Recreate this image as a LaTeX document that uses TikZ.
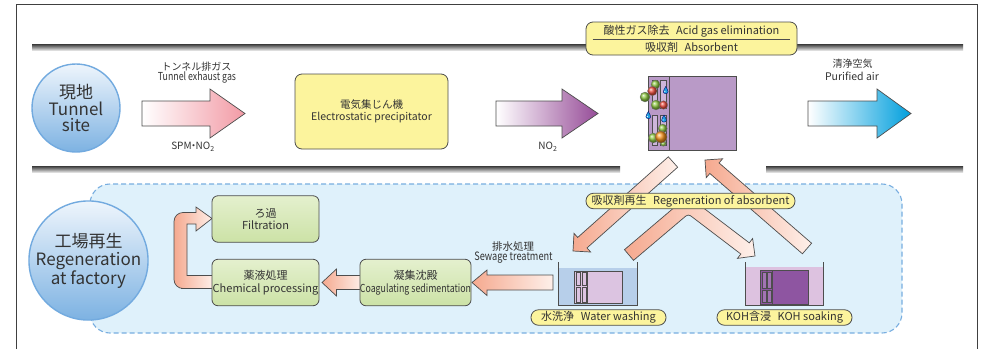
\documentclass[tikz,border=0pt]{standalone}
\usepackage{fontspec}
\usepackage{graphicx}
\setmainfont{Noto Sans CJK JP}
\newfontfamily\narrowfont[FakeStretch=0.8]{Noto Sans CJK JP}
\usetikzlibrary{calc}

\definecolor{ink}{HTML}{333333}
\definecolor{edge}{HTML}{4D4D4D}
\definecolor{yel}{HTML}{FCF49D}
\definecolor{grnT}{HTML}{E4F0CE}
\definecolor{grnB}{HTML}{CCE2A6}
\definecolor{hubT}{HTML}{EEF5FC}
\definecolor{hubB}{HTML}{7DB2E2}
\definecolor{hubline}{HTML}{72AADF}
\definecolor{zone}{HTML}{DFF1FB}
\definecolor{zoneline}{HTML}{78AEE0}
\definecolor{pinkA}{HTML}{F29AA5}
\definecolor{violetA}{HTML}{964C98}
\definecolor{cyanA}{HTML}{009FDD}
\definecolor{salm}{HTML}{F5A98F}
\definecolor{salmL}{HTML}{FEF0EA}
\definecolor{absorb}{HTML}{B99AC7}
\definecolor{slot}{HTML}{CDB6DA}
\definecolor{wash}{HTML}{B7CFEA}
\definecolor{washmod}{HTML}{DCC4E1}
\definecolor{kohliq}{HTML}{DDC2E0}
\definecolor{kohmod}{HTML}{8E55A1}
\definecolor{kohslot}{HTML}{A274B3}
\definecolor{dewc}{HTML}{1E9FE0}
\definecolor{ballG}{HTML}{8CC640}
\definecolor{ballR}{HTML}{E84A3C}
\definecolor{ballO}{HTML}{F7941D}

\tikzset{
  lbl/.style={text=ink, inner sep=0pt, font=\fontsize{10}{12}\selectfont},
  hub/.style={circle, draw=hubline, line width=1.4pt, top color=hubT, bottom color=hubB,
    inner sep=0pt, align=center, text=ink},
  ybox/.style={draw=edge, line width=0.8pt, fill=yel, rounded corners=7pt, align=center,
    text=ink, inner sep=0pt},
  gbox/.style={draw=edge, line width=0.8pt, top color=grnT, bottom color=grnB, rounded corners=6pt,
    minimum width=107pt, minimum height=46.5pt, align=center, text=ink, inner sep=0pt,
    font=\fontsize{11}{12.5}\selectfont},
  tag/.style={ybox, rounded corners=7.5pt, minimum height=15.5pt, font=\fontsize{11}{12}\selectfont},
  blk/.style={draw=edge, line width=0.7pt, line join=miter},
  pipe/.style={top color=black!72, bottom color=black!8},
  ballline/.style={draw=black!50, line width=0.3pt},
  dew/.pic={
    \draw[fill=dewc, draw=blue!40!black, line width=0.35pt]
      (0,-4.5) .. controls (1,-2.2) and (2.4,-1) .. (2.4,0.8)
      .. controls (2.4,3.2) and (-2.4,3.2) .. (-2.4,0.8)
      .. controls (-2.4,-1) and (-1,-2.2) .. cycle;
    \fill[white] (-0.9,0.4) circle (0.6);
  }
}

% slanted block arrow from a tail coordinate to a tip coordinate
\newcommand\slantarrow[3]{%
  \coordinate (#2-b) at ($(#2)!12.5pt!(#1)$);
  \path[#3] ($(#1)!7pt!90:(#2)$) -- ($(#2-b)!7pt!90:(#2)$) -- ($(#2-b)!12.5pt!90:(#2)$)
    -- (#2) -- ($(#2-b)!12.5pt!-90:(#2)$) -- ($(#2-b)!7pt!-90:(#2)$)
    -- ($(#1)!7pt!-90:(#2)$) -- cycle;}

\begin{document}
\begin{tikzpicture}[x=1pt,y=-1pt]
\useasboundingbox (0,0) rectangle (989,349);
\fill[white] (0,0) rectangle (989,349);

% outer frame
\draw[black!75, line width=1pt] (16,349) -- (16,4.5) -- (977,4.5) -- (977,349);

% factory zone
\draw[zoneline, line width=1.1pt, dash pattern=on 5pt off 3pt, fill=zone, rounded corners=20pt]
  (90,184) rectangle (902,333);

% duct walls of the tunnel line
\shade[pipe] (32,44.5) rectangle (963,50.5);
\shade[pipe] (32,166.5) rectangle (620,172.5);
\shade[pipe] (766,166.5) rectangle (963,172.5);

% site hubs
\node[hub, minimum size=88pt, font=\fontsize{17}{16.5}\selectfont] (site) at (76,108)
  {現地\\Tunnel\\site};
\node[hub, minimum size=110pt, font=\fontsize{17}{18}\selectfont] (plant) at (88.5,260.5)
  {工場再生\\Regeneration\\at factory};

% gas flow arrows
\path[blk, left color=white, right color=pinkA]
  (142,101) -- (210,101) -- (210,89) -- (245,113.5) -- (210,138) -- (210,126) -- (142,126) -- cycle;
\path[blk, left color=white, right color=violetA]
  (496,101) -- (562,101) -- (562,89) -- (598,113.5) -- (562,138) -- (562,126) -- (496,126) -- cycle;
\path[blk, left color=white, right color=cyanA]
  (808,101) -- (877,101) -- (877,89) -- (911,113.5) -- (877,138) -- (877,126) -- (808,126) -- cycle;

\node[lbl, anchor=base] (gasjp) at (196.5,70) {トンネル排ガス};
\node[lbl, anchor=base, font=\narrowfont\fontsize{11}{12}\selectfont] (gasen) at (197,80.5) {Tunnel exhaust gas};
\node[lbl, anchor=base] (dust) at (193,149.5) {SPM\kern-0.3em・\kern-0.3em NO\textsubscript{2}};
\node[lbl, anchor=base] (no2) at (548,149.5) {NO\textsubscript{2}};
\node[lbl, anchor=base] (airjp) at (852.5,67.5) {清浄空気};
\node[lbl, anchor=base, font=\fontsize{10.5}{12}\selectfont] (airen) at (852,80.5) {Purified air};

% electrostatic precipitator
\node[ybox, minimum width=153pt, minimum height=75pt, font=\fontsize{10.5}{12}\selectfont] (esp)
  at (371.5,111.5) {電気集じん機\\Electrostatic precipitator};

% acid gas elimination caption
\node[ybox, minimum width=211pt, minimum height=33pt] (acid) at (691.5,38.5) {};
\node[lbl, font=\fontsize{11}{12}\selectfont] (acidjp) at (691.5,31) {酸性ガス除去\hspace{0.6em}Acid gas elimination};
\draw[edge, line width=0.8pt] ($(acid.west)+(7,0.5)$) -- ($(acid.east)+(-7,0.5)$);
\node[lbl, font=\fontsize{11}{12}\selectfont] (sorb) at (691.5,47) {吸収剤\hspace{0.6em}Absorbent};

% absorbent module with captured particles
\draw[edge, line width=0.7pt, fill=absorb] (648,76) rectangle (736,150);
\draw[edge, line width=0.7pt] (669,76) -- (669,150);
\foreach \xa/\xb in {652/657,660/666} {
  \draw[edge, line width=0.5pt, fill=slot] (\xa,80) rectangle (\xb,108);
  \draw[edge, line width=0.5pt, fill=slot] (\xa,115) rectangle (\xb,145.5);
}
\shadedraw[ball color=ballG, ballline] (655.5,84.5) circle (4.5);
\shadedraw[ball color=ballG, ballline] (645,97) circle (5);
\shadedraw[ball color=ballR, ballline] (652.3,91) circle (4.8);
\shadedraw[ball color=ballG, ballline] (656,105) circle (5);
\shadedraw[ball color=ballR, ballline] (663.5,105) circle (4.3);
\shadedraw[ball color=ballG, ballline] (662.7,128.5) circle (4.5);
\shadedraw[ball color=ballG, ballline] (663.3,143.5) circle (2.8);
\shadedraw[ball color=ballG, ballline] (653.3,138) circle (5);
\shadedraw[ball color=ballO, ballline] (661,137) circle (6);
\pic at (665.7,91) {dew};
\pic at (648.3,116) {dew};
\pic at (664,119.5) {dew};

% regeneration loop arrows
\coordinate (aT) at (673,162);
\coordinate (aP) at (573,251);
\coordinate (bT) at (807,248.5);
\coordinate (bP) at (705,160);
\slantarrow{aT}{aP}{blk, left color=salm, right color=salmL}
\slantarrow{bT}{bP}{blk, left color=salm, right color=salmL}

\coordinate (cT) at (629,255);
\coordinate (cA) at (688,205);
\coordinate (cP) at (755,256);
\coordinate (cB) at ($(cP)!12.5pt!(cA)$);
\coordinate (cL1) at ($(cT)!7pt!90:(cA)$);
\coordinate (cL2) at ($(cA)!7pt!-90:(cT)$);
\coordinate (cR1) at ($(cA)!7pt!90:(cP)$);
\coordinate (cR2) at ($(cB)!7pt!90:(cP)$);
\coordinate (cO) at (intersection of cL1--cL2 and cR1--cR2);
\coordinate (cl1) at ($(cT)!7pt!-90:(cA)$);
\coordinate (cl2) at ($(cA)!7pt!90:(cT)$);
\coordinate (cr1) at ($(cA)!7pt!-90:(cP)$);
\coordinate (cr2) at ($(cB)!7pt!-90:(cP)$);
\coordinate (cI) at (intersection of cl1--cl2 and cr1--cr2);
\path[blk, left color=salm, right color=salmL]
  (cL1) [rounded corners=8pt] -- (cO) -- ($(cO)!0.5!(cR2)$) [sharp corners] -- (cR2)
  -- ($(cB)!12.5pt!90:(cP)$) -- (cP) -- ($(cB)!12.5pt!-90:(cP)$) -- (cr2)
  -- ($(cI)!0.5!(cr2)$) [rounded corners=3pt] -- (cI) -- ($(cI)!0.5!(cl1)$) [sharp corners]
  -- (cl1) -- cycle;

\node[tag, minimum width=209pt] (regen) at (690.5,201) {吸収剤再生\hspace{0.6em}Regeneration of absorbent};

% water washing tank
\fill[wash] (558,268) rectangle (637,305);
\draw[edge, line width=0.8pt] (558,262) -- (558,305) -- (637,305) -- (637,262);
\draw[edge, line width=0.7pt, fill=washmod] (574,271) rectangle (622,303);
\draw[edge, line width=0.7pt] (587,271) -- (587,303);
\foreach \xa/\xb in {576/580.5,581.8/585.8} {
  \draw[edge, line width=0.5pt, fill=washmod] (\xa,272.7) rectangle (\xb,285.5);
  \draw[edge, line width=0.5pt, fill=washmod] (\xa,287.7) rectangle (\xb,302);
}
\node[tag, minimum width=135pt] (wlab) at (598.5,317.5) {水洗浄\hspace{0.6em}Water washing};

% KOH soaking tank
\fill[kohliq] (745,267) rectangle (823,305);
\draw[edge, line width=0.8pt] (745,262) -- (745,305) -- (823,305) -- (823,262);
\draw[edge, line width=0.7pt, fill=kohmod] (760,270.5) rectangle (808,304);
\draw[edge, line width=0.7pt] (772,270.5) -- (772,304);
\foreach \xa/\xb in {761.8/766.6,767.2/771.6} {
  \draw[edge, line width=0.5pt, fill=kohslot] (\xa,272.5) rectangle (\xb,288);
  \draw[edge, line width=0.5pt, fill=kohslot] (\xa,290) rectangle (\xb,302.5);
}
\node[tag, minimum width=135pt] (klab) at (784.5,317.5) {KOH含浸\hspace{0.6em}KOH soaking};

% wastewater treatment chain
\path[blk, left color=salm, right color=salmL]
  (553,275) -- (487,275) -- (487,270) -- (472,282.5) -- (487,295.5) -- (487,290) -- (553,290) -- cycle;
\node[lbl, anchor=base, font=\fontsize{10.5}{12}\selectfont] (sewjp) at (513,250) {排水処理};
\node[lbl, anchor=base, font=\narrowfont\fontsize{11.5}{12}\selectfont] (sewen) at (513.5,260.5) {Sewage treatment};

\path[blk, left color=salm, right color=salmL]
  (362,275.5) -- (336.5,275.5) -- (336.5,269) -- (322,282.5) -- (336.5,296) -- (336.5,289.5) -- (362,289.5) -- cycle;

\path[blk, left color=salm, right color=salmL]
  (213,275.5) -- (187,275.5) -- (187,224) -- (196,224) -- (196,231) -- (212,218.5) -- (196,207)
  -- (196,212.5) -- (186,212.5) [rounded corners=9pt] -- (174,212.5) -- (174,288.5) -- (190,288.5)
  [sharp corners] -- (213,288.5) -- cycle;

\node[gbox] (filt) at (265.5,219) {ろ過\\Filtration};
\node[gbox] (chem) at (265.5,282.5) {薬液処理\\Chemical processing};
\node[gbox] (coag) at (415.5,282.5) {凝集沈殿\\{\narrowfont Coagulating sedimentation}};

\end{tikzpicture}
\end{document}
